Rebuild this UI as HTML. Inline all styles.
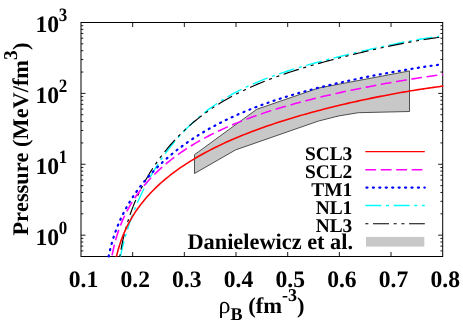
<!DOCTYPE html>
<html><head><meta charset="utf-8"><title>Pressure vs density</title>
<style>
html,body{margin:0;padding:0;background:#fff;}
body{width:463px;height:324px;overflow:hidden;position:relative;font-family:"Liberation Serif",serif;}
svg{will-change:transform;}
svg text{white-space:pre;text-rendering:geometricPrecision;font-kerning:none;font-variant-ligatures:none;}
</style></head><body>
<svg width="463" height="324" viewBox="0 0 463 324" style="position:absolute;left:0;top:0">
<rect width="463" height="324" fill="#fff"/>
<rect x="81.00" y="22.50" width="361.70" height="234.00" fill="none" stroke="#000" stroke-width="1"/>
<path d="M132.67,256.50 L132.67,252.00 M132.67,22.50 L132.67,27.00 M184.34,256.50 L184.34,252.00 M184.34,22.50 L184.34,27.00 M236.01,256.50 L236.01,252.00 M236.01,22.50 L236.01,27.00 M287.69,256.50 L287.69,252.00 M287.69,22.50 L287.69,27.00 M339.36,256.50 L339.36,252.00 M339.36,22.50 L339.36,27.00 M391.03,256.50 L391.03,252.00 M391.03,22.50 L391.03,27.00 M81.00,250.89 L83.30,250.89 M442.70,250.89 L440.40,250.89 M81.00,246.14 L83.30,246.14 M442.70,246.14 L440.40,246.14 M81.00,242.03 L83.30,242.03 M442.70,242.03 L440.40,242.03 M81.00,238.40 L83.30,238.40 M442.70,238.40 L440.40,238.40 M81.00,235.16 L85.50,235.16 M442.70,235.16 L438.20,235.16 M81.00,213.82 L83.30,213.82 M442.70,213.82 L440.40,213.82 M81.00,201.34 L83.30,201.34 M442.70,201.34 L440.40,201.34 M81.00,192.48 L83.30,192.48 M442.70,192.48 L440.40,192.48 M81.00,185.61 L83.30,185.61 M442.70,185.61 L440.40,185.61 M81.00,180.00 L83.30,180.00 M442.70,180.00 L440.40,180.00 M81.00,175.25 L83.30,175.25 M442.70,175.25 L440.40,175.25 M81.00,171.14 L83.30,171.14 M442.70,171.14 L440.40,171.14 M81.00,167.52 L83.30,167.52 M442.70,167.52 L440.40,167.52 M81.00,164.27 L85.50,164.27 M442.70,164.27 L438.20,164.27 M81.00,142.93 L83.30,142.93 M442.70,142.93 L440.40,142.93 M81.00,130.45 L83.30,130.45 M442.70,130.45 L440.40,130.45 M81.00,121.60 L83.30,121.60 M442.70,121.60 L440.40,121.60 M81.00,114.73 L83.30,114.73 M442.70,114.73 L440.40,114.73 M81.00,109.11 L83.30,109.11 M442.70,109.11 L440.40,109.11 M81.00,104.37 L83.30,104.37 M442.70,104.37 L440.40,104.37 M81.00,100.26 L83.30,100.26 M442.70,100.26 L440.40,100.26 M81.00,96.63 L83.30,96.63 M442.70,96.63 L440.40,96.63 M81.00,93.39 L85.50,93.39 M442.70,93.39 L438.20,93.39 M81.00,72.05 L83.30,72.05 M442.70,72.05 L440.40,72.05 M81.00,59.57 L83.30,59.57 M442.70,59.57 L440.40,59.57 M81.00,50.71 L83.30,50.71 M442.70,50.71 L440.40,50.71 M81.00,43.84 L83.30,43.84 M442.70,43.84 L440.40,43.84 M81.00,38.23 L83.30,38.23 M442.70,38.23 L440.40,38.23 M81.00,33.48 L83.30,33.48 M442.70,33.48 L440.40,33.48 M81.00,29.37 L83.30,29.37 M442.70,29.37 L440.40,29.37 M81.00,25.74 L83.30,25.74 M442.70,25.74 L440.40,25.74" stroke="#000" stroke-width="0.9" fill="none"/>
<polygon points="194.5,154.7 256.7,109.3 318.7,88.0 409.5,70.9 409.5,111.5 358.5,112.7 338.9,115.9 318.3,121.1 235.6,149.9 194.5,173.5" fill="#c8c8c8" stroke="#2a2a2a" stroke-width="0.8" stroke-linejoin="miter"/>
<path d="M120.26,256.99 L120.79,254.54 L121.35,252.07 L121.92,249.62 L122.52,247.15 L123.13,244.71 L123.77,242.27 L124.43,239.81 L125.11,237.37 L125.82,234.90 L126.54,232.50 L127.28,230.11 L128.06,227.66 L128.85,225.24 L129.65,222.86 L130.49,220.45 L131.33,218.09 L132.21,215.70 L133.12,213.29 L134.04,210.94 L134.98,208.57 L135.96,206.19 L136.93,203.89 L137.92,201.57 L138.95,199.25 L140.01,196.91 L141.10,194.58 L142.21,192.24 L143.31,189.98 L144.44,187.72 L145.60,185.46 L146.78,183.21 L147.99,180.95 L149.22,178.70 L150.49,176.46 L151.78,174.22 L153.09,171.98 L154.39,169.84 L155.70,167.71 L157.04,165.59 L158.41,163.47 L159.80,161.37 L161.22,159.27 L162.66,157.19 L164.13,155.12 L165.62,153.06 L167.13,151.02 L168.67,148.99 L170.24,146.98 L171.83,144.98 L173.45,143.00 L175.09,141.04 L176.75,139.10 L178.45,137.17 L180.16,135.26 L181.90,133.37 L183.67,131.51 L185.46,129.66 L187.27,127.83 L189.11,126.03 L190.98,124.24 L192.87,122.48 L194.78,120.74 L196.72,119.03 L198.69,117.33 L200.68,115.66 L202.69,114.02 L204.65,112.46 L206.63,110.92 L208.63,109.41 L210.66,107.92 L212.71,106.45 L214.78,105.00 L216.88,103.58 L219.00,102.18 L221.14,100.80 L223.30,99.44 L225.49,98.10 L227.70,96.79 L229.93,95.50 L232.19,94.23 L234.47,92.98 L236.68,91.80 L238.90,90.64 L241.15,89.50 L243.42,88.38 L245.71,87.28 L248.02,86.19 L250.35,85.13 L252.71,84.08 L255.08,83.05 L257.48,82.03 L259.79,81.07 L262.12,80.13 L264.47,79.20 L266.84,78.28 L269.23,77.38 L271.64,76.49 L274.06,75.61 L276.51,74.75 L278.98,73.89 L281.35,73.09 L283.74,72.29 L286.14,71.50 L288.57,70.72 L291.01,69.95 L293.47,69.19 L295.95,68.43 L298.44,67.68 L300.95,66.94 L303.36,66.24 L305.79,65.54 L308.23,64.85 L310.69,64.16 L313.16,63.48 L315.65,62.80 L318.15,62.12 L320.67,61.45 L323.21,60.78 L325.64,60.15 L328.07,59.51 L330.53,58.88 L333.00,58.26 L335.48,57.63 L337.98,57.00 L340.49,56.38 L343.01,55.76 L345.55,55.13 L348.11,54.51 L350.54,53.93 L352.99,53.34 L355.44,52.75 L357.92,52.17 L360.40,51.59 L362.90,51.00 L365.41,50.42 L367.93,49.84 L370.47,49.26 L373.02,48.68 L375.58,48.11 L378.16,47.54 L380.60,47.00 L383.06,46.46 L385.52,45.93 L388.00,45.40 L390.49,44.87 L393.00,44.35 L395.51,43.83 L398.03,43.31 L400.57,42.80 L403.12,42.30 L405.68,41.81 L408.25,41.32 L410.83,40.84 L413.42,40.37 L416.03,39.90 L418.65,39.45 L421.12,39.04 L423.60,38.63 L426.10,38.24 L428.60,37.86 L431.12,37.49 L433.64,37.13 L436.18,36.80 L438.72,36.47 L439.20,36.42" fill="none" stroke="#00ffff" stroke-width="1.40" stroke-dasharray="15.95 4.65 3.08 4.65" stroke-dashoffset="28.19"/>
<path d="M119.71,256.99 L120.10,254.51 L120.52,252.04 L120.97,249.55 L121.43,247.07 L121.92,244.61 L122.44,242.11 L122.98,239.64 L123.56,237.15 L124.16,234.66 L124.78,232.20 L125.43,229.76 L126.11,227.30 L126.80,224.88 L127.54,222.44 L128.30,219.99 L129.08,217.60 L129.89,215.21 L130.74,212.81 L131.61,210.40 L132.53,207.99 L133.44,205.66 L134.38,203.33 L135.35,201.00 L136.36,198.68 L137.40,196.36 L138.47,194.04 L139.57,191.73 L140.70,189.42 L141.86,187.12 L143.05,184.83 L144.28,182.54 L145.49,180.35 L146.73,178.16 L148.00,175.99 L149.30,173.82 L150.62,171.66 L151.98,169.52 L153.37,167.38 L154.78,165.26 L156.23,163.15 L157.70,161.05 L159.20,158.96 L160.73,156.89 L162.29,154.84 L163.88,152.79 L165.50,150.77 L167.09,148.83 L168.70,146.90 L170.34,145.00 L172.01,143.11 L173.70,141.23 L175.42,139.37 L177.17,137.53 L178.95,135.70 L180.75,133.89 L182.58,132.10 L184.44,130.33 L186.32,128.58 L188.23,126.84 L190.17,125.12 L192.13,123.43 L194.05,121.81 L195.99,120.21 L197.95,118.64 L199.94,117.08 L201.95,115.54 L203.99,114.01 L206.06,112.51 L208.15,111.02 L210.26,109.56 L212.40,108.11 L214.57,106.68 L216.75,105.27 L218.88,103.93 L221.03,102.61 L223.20,101.31 L225.39,100.03 L227.61,98.76 L229.85,97.51 L232.11,96.27 L234.40,95.06 L236.71,93.86 L238.94,92.72 L241.20,91.60 L243.48,90.49 L245.77,89.40 L248.09,88.32 L250.43,87.26 L252.79,86.21 L255.18,85.17 L257.58,84.14 L259.90,83.17 L262.24,82.22 L264.59,81.27 L266.97,80.34 L269.37,79.41 L271.78,78.50 L274.22,77.60 L276.67,76.70 L279.03,75.86 L281.41,75.02 L283.81,74.19 L286.22,73.37 L288.65,72.56 L291.10,71.76 L293.57,70.96 L296.05,70.16 L298.55,69.38 L300.95,68.64 L303.37,67.90 L305.80,67.17 L308.25,66.44 L310.71,65.72 L313.19,65.00 L315.68,64.29 L318.19,63.58 L320.72,62.87 L323.14,62.20 L325.57,61.54 L328.01,60.88 L330.47,60.22 L332.94,59.57 L335.43,58.91 L337.93,58.26 L340.45,57.62 L342.98,56.97 L345.52,56.33 L348.08,55.69 L350.52,55.08 L352.97,54.48 L355.44,53.88 L357.91,53.29 L360.40,52.69 L362.91,52.10 L365.42,51.51 L367.95,50.92 L370.49,50.33 L373.05,49.75 L375.61,49.17 L378.19,48.60 L380.64,48.06 L383.10,47.52 L385.58,46.98 L388.06,46.45 L390.56,45.93 L393.06,45.41 L395.58,44.89 L398.11,44.38 L400.65,43.87 L403.20,43.37 L405.77,42.87 L408.35,42.38 L410.93,41.90 L413.53,41.43 L416.14,40.97 L418.61,40.54 L421.09,40.12 L423.58,39.70 L426.08,39.30 L428.58,38.91 L431.10,38.53 L433.63,38.16 L436.17,37.80 L438.72,37.45 L439.20,37.39" fill="none" stroke="#000000" stroke-width="1.15" stroke-dasharray="15.95 4.65 3.08 4.65 3.08 4.65" stroke-dashoffset="28.68"/>
<path d="M108.48,257.00 L109.00,254.54 L109.55,252.07 L110.13,249.62 L110.74,247.19 L111.38,244.76 L112.06,242.31 L112.78,239.86 L113.53,237.45 L114.31,235.05 L115.13,232.66 L116.00,230.25 L116.90,227.87 L117.82,225.54 L118.79,223.20 L119.80,220.84 L120.83,218.55 L121.91,216.26 L123.03,213.97 L124.20,211.68 L125.37,209.46 L126.59,207.24 L127.85,205.03 L129.15,202.82 L130.50,200.62 L131.84,198.50 L133.22,196.39 L134.64,194.28 L136.10,192.18 L137.60,190.10 L139.10,188.08 L140.62,186.08 L142.19,184.09 L143.79,182.11 L145.43,180.14 L147.11,178.18 L148.76,176.29 L150.45,174.42 L152.18,172.55 L153.94,170.70 L155.73,168.86 L157.56,167.03 L159.36,165.28 L161.20,163.54 L163.06,161.80 L164.96,160.08 L166.89,158.38 L168.85,156.68 L170.77,155.06 L172.72,153.45 L174.71,151.85 L176.72,150.26 L178.76,148.69 L180.83,147.13 L182.86,145.63 L184.91,144.15 L186.99,142.69 L189.10,141.23 L191.24,139.79 L193.40,138.36 L195.51,136.99 L197.64,135.64 L199.80,134.30 L201.99,132.97 L204.20,131.66 L206.44,130.35 L208.61,129.11 L210.80,127.88 L213.02,126.66 L215.26,125.46 L217.53,124.26 L219.82,123.08 L222.14,121.91 L224.38,120.80 L226.64,119.70 L228.92,118.61 L231.23,117.53 L233.56,116.46 L235.91,115.40 L238.28,114.35 L240.67,113.31 L242.98,112.33 L245.31,111.36 L247.66,110.39 L250.03,109.44 L252.42,108.49 L254.83,107.56 L257.26,106.63 L259.71,105.72 L262.07,104.85 L264.44,103.99 L266.84,103.14 L269.25,102.30 L271.68,101.47 L274.13,100.64 L276.59,99.83 L279.08,99.02 L281.46,98.25 L283.86,97.50 L286.28,96.75 L288.71,96.00 L291.16,95.27 L293.63,94.54 L296.11,93.81 L298.61,93.10 L301.12,92.39 L303.66,91.68 L306.08,91.02 L308.51,90.36 L310.96,89.71 L313.43,89.07 L315.91,88.42 L318.40,87.79 L320.91,87.16 L323.44,86.53 L325.98,85.91 L328.54,85.29 L330.97,84.71 L333.42,84.14 L335.88,83.57 L338.35,83.00 L340.84,82.44 L343.34,81.88 L345.86,81.33 L348.39,80.77 L350.93,80.23 L353.48,79.68 L356.05,79.14 L358.63,78.61 L361.08,78.10 L363.55,77.60 L366.02,77.11 L368.51,76.61 L371.01,76.12 L373.52,75.64 L376.04,75.15 L378.57,74.67 L381.12,74.19 L383.68,73.72 L386.25,73.25 L388.83,72.78 L391.42,72.31 L394.03,71.85 L396.49,71.42 L398.97,70.99 L401.45,70.56 L403.95,70.14 L406.45,69.72 L408.97,69.30 L411.50,68.88 L414.03,68.47 L416.58,68.06 L419.14,67.66 L421.71,67.25 L424.29,66.85 L426.88,66.46 L429.48,66.07 L432.09,65.68 L434.72,65.29 L437.35,64.91 L439.00,64.68" fill="none" stroke="#0000ff" stroke-width="2.20" stroke-linecap="round" stroke-dasharray="1.10 5.34" stroke-dashoffset="5.89"/>
<path d="M111.83,256.99 L112.29,254.51 L112.78,252.04 L113.29,249.59 L113.84,247.14 L114.44,244.66 L115.06,242.22 L115.73,239.74 L116.42,237.33 L117.15,234.93 L117.94,232.49 L118.75,230.11 L119.61,227.70 L120.50,225.36 L121.44,223.02 L122.42,220.67 L123.45,218.34 L124.53,216.01 L125.62,213.76 L126.76,211.51 L127.95,209.29 L129.18,207.07 L130.45,204.87 L131.77,202.69 L133.13,200.52 L134.54,198.36 L135.95,196.29 L137.40,194.23 L138.90,192.19 L140.44,190.16 L142.01,188.15 L143.64,186.16 L145.25,184.24 L146.90,182.34 L148.59,180.45 L150.32,178.58 L152.09,176.73 L153.90,174.89 L155.69,173.12 L157.52,171.37 L159.39,169.63 L161.29,167.91 L163.23,166.21 L165.14,164.57 L167.08,162.95 L169.06,161.34 L171.08,159.75 L173.13,158.17 L175.14,156.66 L177.19,155.16 L179.26,153.67 L181.37,152.20 L183.51,150.75 L185.61,149.35 L187.74,147.97 L189.89,146.61 L192.08,145.25 L194.30,143.91 L196.46,142.63 L198.65,141.36 L200.87,140.10 L203.12,138.86 L205.40,137.63 L207.61,136.45 L209.85,135.29 L212.12,134.14 L214.41,133.00 L216.73,131.87 L219.07,130.75 L221.35,129.69 L223.65,128.63 L225.97,127.59 L228.31,126.56 L230.68,125.53 L233.08,124.52 L235.39,123.55 L237.73,122.60 L240.09,121.65 L242.48,120.72 L244.88,119.79 L247.31,118.87 L249.76,117.96 L252.12,117.10 L254.50,116.24 L256.90,115.39 L259.32,114.55 L261.77,113.72 L264.23,112.89 L266.71,112.08 L269.10,111.30 L271.51,110.53 L273.93,109.77 L276.38,109.01 L278.84,108.26 L281.32,107.52 L283.82,106.78 L286.33,106.05 L288.75,105.36 L291.18,104.67 L293.62,103.99 L296.09,103.31 L298.57,102.64 L301.06,101.97 L303.58,101.31 L306.11,100.65 L308.65,100.00 L311.09,99.38 L313.54,98.77 L316.00,98.16 L318.48,97.56 L320.97,96.96 L323.48,96.36 L326.01,95.77 L328.54,95.18 L331.10,94.59 L333.67,94.01 L336.12,93.46 L338.58,92.91 L341.05,92.37 L343.54,91.83 L346.04,91.29 L348.55,90.76 L351.08,90.23 L353.62,89.70 L356.18,89.17 L358.75,88.65 L361.33,88.13 L363.92,87.62 L366.39,87.13 L368.86,86.65 L371.35,86.17 L373.85,85.69 L376.36,85.22 L378.88,84.74 L381.42,84.28 L383.97,83.81 L386.53,83.35 L389.10,82.89 L391.68,82.43 L394.27,81.97 L396.88,81.52 L399.35,81.10 L401.82,80.68 L404.31,80.27 L406.80,79.85 L409.31,79.45 L411.83,79.04 L414.36,78.64 L416.90,78.24 L419.45,77.84 L422.01,77.45 L424.58,77.06 L427.16,76.68 L429.75,76.30 L432.35,75.93 L434.97,75.56 L437.59,75.19 L440.22,74.83 L442.70,74.50 L443.20,74.44" fill="none" stroke="#ff00ff" stroke-width="1.55" stroke-dasharray="10.80 4.65" stroke-dashoffset="13.71"/>
<path d="M116.32,257.00 L116.91,254.57 L117.53,252.14 L118.21,249.70 L118.92,247.26 L119.67,244.86 L120.46,242.48 L121.28,240.11 L122.17,237.72 L123.10,235.35 L124.07,232.99 L125.09,230.67 L126.13,228.40 L127.24,226.11 L128.37,223.88 L129.56,221.65 L130.81,219.42 L132.07,217.25 L133.39,215.09 L134.76,212.94 L136.19,210.80 L137.62,208.74 L139.11,206.68 L140.65,204.63 L142.19,202.66 L143.77,200.70 L145.41,198.75 L147.09,196.81 L148.77,194.94 L150.49,193.09 L152.26,191.25 L154.07,189.42 L155.87,187.66 L157.71,185.91 L159.59,184.18 L161.45,182.51 L163.36,180.85 L165.30,179.21 L167.28,177.57 L169.23,176.01 L171.23,174.45 L173.25,172.90 L175.32,171.37 L177.35,169.90 L179.42,168.43 L181.52,166.98 L183.65,165.54 L185.75,164.16 L187.87,162.79 L190.03,161.43 L192.22,160.08 L194.36,158.79 L196.53,157.51 L198.73,156.23 L200.97,154.97 L203.23,153.71 L205.43,152.51 L207.66,151.32 L209.93,150.14 L212.21,148.97 L214.53,147.80 L216.78,146.69 L219.06,145.58 L221.37,144.49 L223.70,143.40 L226.05,142.32 L228.34,141.29 L230.64,140.26 L232.98,139.25 L235.33,138.24 L237.71,137.24 L240.11,136.24 L242.44,135.29 L244.79,134.35 L247.15,133.42 L249.54,132.49 L251.95,131.57 L254.39,130.65 L256.74,129.78 L259.10,128.91 L261.49,128.06 L263.90,127.20 L266.32,126.35 L268.77,125.51 L271.23,124.67 L273.61,123.88 L276.00,123.08 L278.41,122.30 L280.83,121.52 L283.28,120.74 L285.74,119.97 L288.22,119.20 L290.72,118.44 L293.12,117.72 L295.53,117.00 L297.96,116.29 L300.40,115.58 L302.87,114.87 L305.34,114.17 L307.84,113.47 L310.35,112.78 L312.88,112.08 L315.29,111.43 L317.72,110.78 L320.17,110.14 L322.63,109.50 L325.10,108.86 L327.59,108.23 L330.10,107.60 L332.62,106.97 L335.15,106.34 L337.70,105.72 L340.26,105.11 L342.71,104.53 L345.16,103.95 L347.63,103.38 L350.11,102.81 L352.61,102.24 L355.12,101.68 L357.64,101.12 L360.17,100.56 L362.72,100.01 L365.28,99.46 L367.86,98.92 L370.45,98.38 L372.90,97.87 L375.37,97.37 L377.85,96.87 L380.34,96.38 L382.85,95.89 L385.36,95.40 L387.89,94.92 L390.43,94.44 L392.98,93.97 L395.54,93.50 L398.12,93.03 L400.70,92.57 L403.30,92.12 L405.91,91.67 L408.38,91.25 L410.86,90.84 L413.34,90.43 L415.84,90.03 L418.35,89.64 L420.87,89.25 L423.40,88.86 L425.94,88.48 L428.49,88.11 L431.05,87.75 L433.63,87.39 L436.21,87.03 L438.80,86.69 L441.40,86.35 L443.20,86.13" fill="none" stroke="#ff0000" stroke-width="1.55"/>
<path d="M365.3,151.7 H424.8" stroke="#ff0000" stroke-width="1.3" fill="none"/>
<path d="M365.3,169.8 H424.8" stroke="#ff00ff" stroke-width="1.6" fill="none" stroke-dasharray="10.80 4.65"/>
<path d="M366.4,187.6 H424.8" stroke="#0000ff" stroke-width="2.2" fill="none" stroke-linecap="round" stroke-dasharray="1.1 5.34"/>
<path d="M365.3,205.6 H424.8" stroke="#00ffff" stroke-width="1.5" fill="none" stroke-dasharray="15.95 4.65 3.08 4.65"/>
<path d="M365.3,223.7 H424.8" stroke="#000" stroke-width="1.1" fill="none" stroke-dasharray="3.08 4.65 15.95 4.65 3.08 4.65"/>
<rect x="366" y="236.9" width="58.3" height="9.7" fill="#c8c8c8"/>
<text x="35.4" y="244.6" font-family="'Liberation Serif', serif" font-weight="bold" font-size="23.6">10</text><text transform="translate(58.8,233.9) scale(0.9,1)" font-family="'Liberation Serif', serif" font-weight="bold" font-size="18.88">0</text>
<text x="35.4" y="173.7" font-family="'Liberation Serif', serif" font-weight="bold" font-size="23.6">10</text><text transform="translate(58.8,163.0) scale(0.9,1)" font-family="'Liberation Serif', serif" font-weight="bold" font-size="18.88">1</text>
<text x="35.4" y="102.8" font-family="'Liberation Serif', serif" font-weight="bold" font-size="23.6">10</text><text transform="translate(58.8,92.1) scale(0.9,1)" font-family="'Liberation Serif', serif" font-weight="bold" font-size="18.88">2</text>
<text x="35.4" y="31.9" font-family="'Liberation Serif', serif" font-weight="bold" font-size="23.6">10</text><text transform="translate(58.8,21.2) scale(0.9,1)" font-family="'Liberation Serif', serif" font-weight="bold" font-size="18.88">3</text>
<text x="83.5" y="286.7" font-family="'Liberation Serif', serif" font-weight="bold" font-size="23.6" text-anchor="middle">0.1</text>
<text x="135.2" y="286.7" font-family="'Liberation Serif', serif" font-weight="bold" font-size="23.6" text-anchor="middle">0.2</text>
<text x="186.8" y="286.7" font-family="'Liberation Serif', serif" font-weight="bold" font-size="23.6" text-anchor="middle">0.3</text>
<text x="238.5" y="286.7" font-family="'Liberation Serif', serif" font-weight="bold" font-size="23.6" text-anchor="middle">0.4</text>
<text x="290.2" y="286.7" font-family="'Liberation Serif', serif" font-weight="bold" font-size="23.6" text-anchor="middle">0.5</text>
<text x="341.9" y="286.7" font-family="'Liberation Serif', serif" font-weight="bold" font-size="23.6" text-anchor="middle">0.6</text>
<text x="393.5" y="286.7" font-family="'Liberation Serif', serif" font-weight="bold" font-size="23.6" text-anchor="middle">0.7</text>
<text x="445.2" y="286.7" font-family="'Liberation Serif', serif" font-weight="bold" font-size="23.6" text-anchor="middle">0.8</text>
<text x="218.6" y="312.8" font-family="'Liberation Serif', serif" font-size="22.55"><tspan font-size="24">ρ</tspan><tspan font-family="'Liberation Serif', serif" font-weight="bold" font-size="18.04" dy="7.1">B</tspan><tspan font-family="'Liberation Serif', serif" font-weight="bold" font-size="22.55" dy="-7.1"> (fm</tspan><tspan font-family="'Liberation Serif', serif" font-weight="bold" font-size="18.04" dy="-11.4">-3</tspan><tspan font-family="'Liberation Serif', serif" font-weight="bold" font-size="22.55" dy="11.4">)</tspan></text>
<text transform="translate(27.8,235.6) rotate(-90)" font-family="'Liberation Serif', serif" font-weight="bold" font-size="22.35">Pressure (MeV/fm<tspan dy="-11.2" font-size="19.6">3</tspan><tspan dy="11.2" dx="0.3">)</tspan></text>
<text x="352.3" y="159.8" font-family="'Liberation Serif', serif" font-weight="bold" font-size="19.4" text-anchor="end">SCL3</text>
<text x="352.3" y="177.9" font-family="'Liberation Serif', serif" font-weight="bold" font-size="19.4" text-anchor="end">SCL2</text>
<text x="352.3" y="195.7" font-family="'Liberation Serif', serif" font-weight="bold" font-size="19.4" text-anchor="end">TM1</text>
<text x="352.3" y="213.7" font-family="'Liberation Serif', serif" font-weight="bold" font-size="19.4" text-anchor="end">NL1</text>
<text x="352.3" y="231.8" font-family="'Liberation Serif', serif" font-weight="bold" font-size="19.4" text-anchor="end">NL3</text>
<text x="353.1" y="249.4" font-family="'Liberation Serif', serif" font-weight="bold" font-size="22.35" text-anchor="end">Danielewicz et al.</text>
</svg>
</body></html>
